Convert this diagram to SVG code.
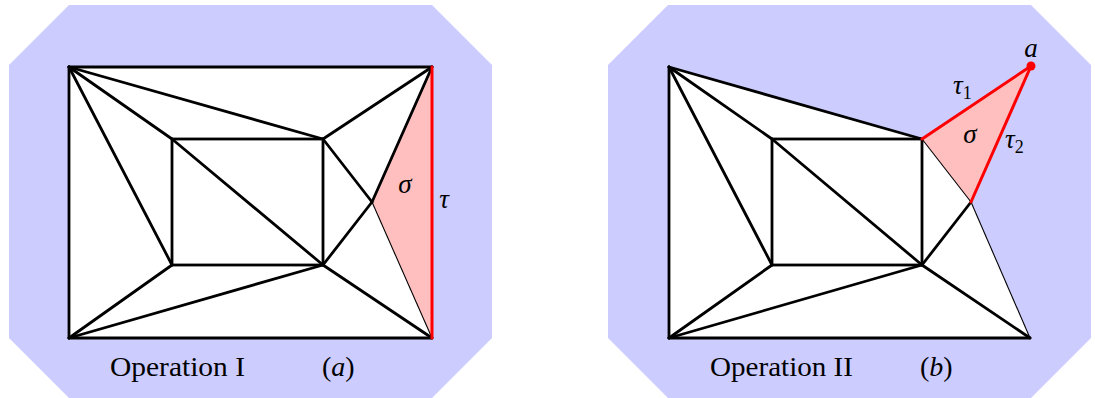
<svg xmlns="http://www.w3.org/2000/svg" width="1095" height="398" viewBox="0 0 1095 398">
<style>
.bg{fill:#ccccff;stroke:none}
.wh{fill:#ffffff;stroke:none}
.pk{fill:#ffbfbf;stroke:none}
.e{stroke:#000;stroke-width:2.8;stroke-linecap:round;fill:none}
.t{stroke:#000;stroke-width:1.1;fill:none}
.r{stroke:#ff0000;stroke-width:3;stroke-linecap:round;fill:none}
.txt{font-size:28px;fill:#000}
.m{font-style:italic;font-size:27px;fill:#000}
.sub{font-size:18px;font-style:normal}
</style>
<g id="panel-a">
  <polygon class="bg" points="69,5 432,5 492,65 492,338 432,398 69,398 9,338 9,65"/>
  <rect class="wh" x="69" y="67" width="363" height="271"/>
  <polygon id="sigma-a" class="pk" points="432,67 372,202 432,338"/>
  <g id="edges-a">
    <line class="e" x1="69" y1="67" x2="432" y2="67"/>
    <line class="e" x1="69" y1="67" x2="69" y2="338"/>
    <line class="e" x1="69" y1="338" x2="432" y2="338"/>
    <line class="e" x1="69" y1="67" x2="172" y2="139"/>
    <line class="e" x1="69" y1="67" x2="172" y2="265"/>
    <line class="e" x1="69" y1="67" x2="323" y2="139"/>
    <line class="e" x1="69" y1="338" x2="172" y2="265"/>
    <line class="e" x1="69" y1="338" x2="323" y2="265"/>
    <rect class="e" x="172" y="139" width="151" height="126"/>
    <line class="e" x1="172" y1="139" x2="323" y2="265"/>
    <line class="e" x1="323" y1="139" x2="432" y2="67"/>
    <line class="e" x1="323" y1="139" x2="372" y2="202"/>
    <line class="e" x1="323" y1="265" x2="372" y2="202"/>
    <line class="e" x1="323" y1="265" x2="432" y2="338"/>
    <line class="e" x1="432" y1="67" x2="372" y2="202"/>
    <line class="t" x1="372" y1="202" x2="432" y2="338"/>
    <line id="tau-a" class="r" x1="432" y1="67" x2="432" y2="338"/>
  </g>
  <g id="labels-a" font-family="'Liberation Serif', 'Times New Roman', serif">
    <text class="m" x="405" y="193" text-anchor="middle">σ</text>
    <text class="m" x="444" y="208" text-anchor="middle">τ</text>
    <text class="txt" x="110" y="376" textLength="135" lengthAdjust="spacingAndGlyphs">Operation I</text>
    <text class="txt" x="322" y="376">(<tspan font-style="italic">a</tspan>)</text>
  </g>
</g>
<g id="panel-b">
  <polygon class="bg" points="668,5 1031,5 1091,65 1091,338 1031,398 668,398 608,338 608,65"/>
  <polygon class="wh" points="669,67 922,139 971,202 1030,338 669,338"/>
  <polygon id="sigma-b" class="pk" points="922,139 1031,66 971,202"/>
  <g id="edges-b">
    <line class="e" x1="669" y1="67" x2="669" y2="338"/>
    <line class="e" x1="669" y1="338" x2="1030" y2="338"/>
    <line class="e" x1="669" y1="67" x2="922" y2="139"/>
    <line class="e" x1="669" y1="67" x2="772" y2="139"/>
    <line class="e" x1="669" y1="67" x2="772" y2="265"/>
    <line class="e" x1="669" y1="338" x2="772" y2="265"/>
    <line class="e" x1="669" y1="338" x2="922" y2="265"/>
    <rect class="e" x="772" y="139" width="150" height="126"/>
    <line class="e" x1="772" y1="139" x2="922" y2="265"/>
    <line class="e" x1="922" y1="265" x2="971" y2="202"/>
    <line class="e" x1="922" y1="265" x2="1030" y2="338"/>
    <line class="t" x1="922" y1="139" x2="971" y2="202"/>
    <line class="t" x1="971" y1="202" x2="1030" y2="338"/>
    <line id="tau1" class="r" x1="922" y1="139" x2="1031" y2="66"/>
    <line id="tau2" class="r" x1="1031" y1="66" x2="971" y2="202"/>
  </g>
  <circle id="node-a" cx="1031" cy="66" r="4.5" fill="#ff0000"/>
  <g id="labels-b" font-family="'Liberation Serif', 'Times New Roman', serif">
    <text class="m" x="1031" y="57" text-anchor="middle">a</text>
    <text class="m" x="953" y="94">τ<tspan class="sub" dy="5">1</tspan></text>
    <text class="m" x="970" y="143" text-anchor="middle">σ</text>
    <text class="m" x="1005" y="148">τ<tspan class="sub" dy="5">2</tspan></text>
    <text class="txt" x="710" y="376" textLength="143" lengthAdjust="spacingAndGlyphs">Operation II</text>
    <text class="txt" x="920" y="376">(<tspan font-style="italic">b</tspan>)</text>
  </g>
</g>
</svg>
